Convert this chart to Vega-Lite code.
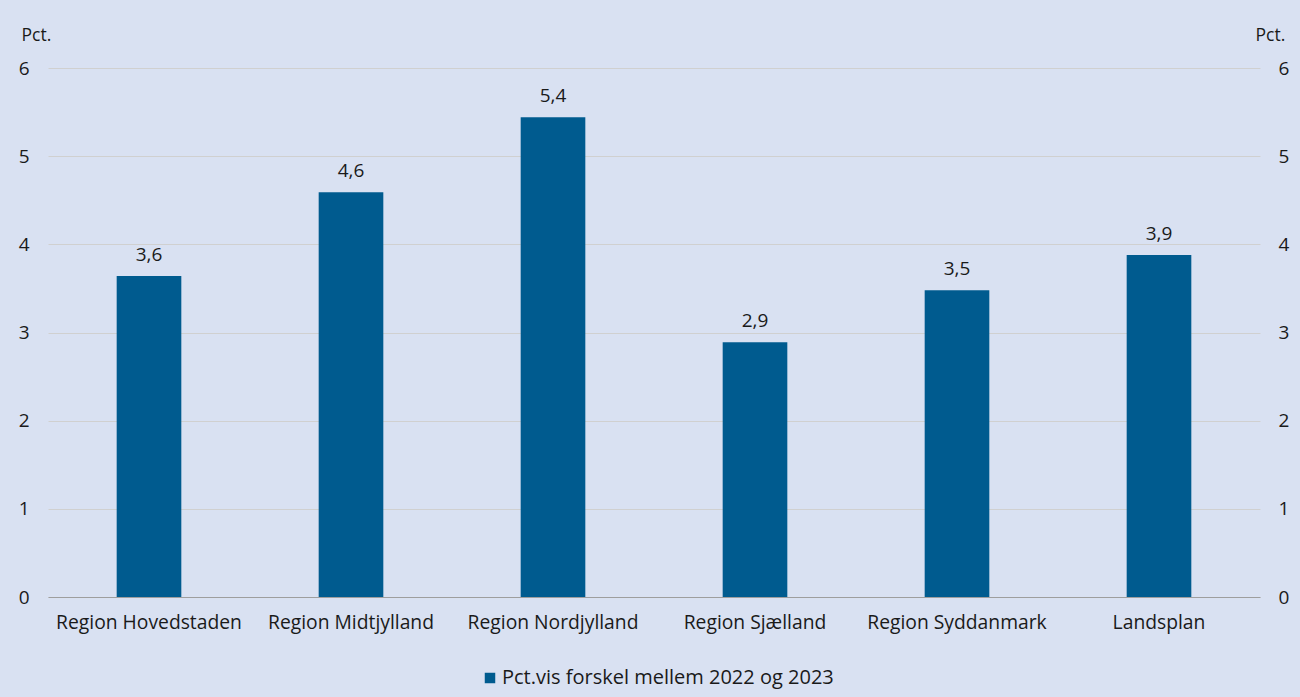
{
  "$schema": "https://vega.github.io/schema/vega-lite/v6.json",
  "width": 1212,
  "height": 529,
  "autosize": {"type": "none"},
  "padding": {"left": 48, "top": 68, "right": 40, "bottom": 100},
  "background": "#D9E1F2",
  "config": {
    "view": {"stroke": null},
    "font": "Open Sans",
    "locale": {"number": {"decimal": ",", "thousands": ".", "grouping": [3], "currency": ["", " kr."]}}
  },
  "data": {
    "values": [
      {"region": "Region Hovedstaden", "value": 3.64, "serie": "Pct.vis forskel mellem 2022 og 2023"},
      {"region": "Region Midtjylland", "value": 4.59, "serie": "Pct.vis forskel mellem 2022 og 2023"},
      {"region": "Region Nordjylland", "value": 5.44, "serie": "Pct.vis forskel mellem 2022 og 2023"},
      {"region": "Region Sjælland", "value": 2.89, "serie": "Pct.vis forskel mellem 2022 og 2023"},
      {"region": "Region Syddanmark", "value": 3.48, "serie": "Pct.vis forskel mellem 2022 og 2023"},
      {"region": "Landsplan", "value": 3.88, "serie": "Pct.vis forskel mellem 2022 og 2023"}
    ]
  },
  "encoding": {
    "x": {
      "field": "region", "type": "nominal", "sort": null,
      "scale": {"paddingInner": 0.68, "paddingOuter": 0.34},
      "axis": {
        "title": null, "labelAngle": 0, "ticks": false, "labelFontSize": 19.3, "labelColor": "#1a1a1a",
        "domainColor": "#9e9e9e", "labelPadding": 16, "labelLimit": 0
      }
    }
  },
  "layer": [
    {
      "mark": {"type": "bar"},
      "encoding": {
        "y": {
          "field": "value", "type": "quantitative",
          "scale": {"domain": [0, 6], "nice": false},
          "axis": {
            "orient": "left", "values": [0, 1, 2, 3, 4, 5, 6], "grid": true, "gridColor": "#d0d0d0",
            "domain": false, "ticks": false, "labelPadding": 19, "labelFontSize": 19, "labelColor": "#1a1a1a",
            "title": "Pct.", "titleAngle": 0, "titleAlign": "left", "titleBaseline": "alphabetic",
            "titleX": -27, "titleY": -28, "titleFontSize": 17.5, "titleFontWeight": "normal", "titleColor": "#1a1a1a"
          }
        },
        "color": {
          "field": "serie", "type": "nominal",
          "scale": {"range": ["#005B8F"]},
          "legend": {
            "title": null, "orient": "none", "legendX": 432, "legendY": 600, "symbolType": "square",
            "symbolSize": 110, "symbolStrokeWidth": 0, "labelFontSize": 20, "labelColor": "#1a1a1a",
            "labelOffset": 2, "labelLimit": 0
          }
        }
      }
    },
    {
      "mark": {"type": "text", "baseline": "bottom", "dy": -11, "fontSize": 19, "color": "#1a1a1a"},
      "encoding": {
        "y": {
          "field": "value", "type": "quantitative",
          "scale": {"domain": [0, 6], "nice": false},
          "axis": {
            "orient": "right", "values": [0, 1, 2, 3, 4, 5, 6], "grid": false,
            "domain": false, "ticks": false, "labelPadding": 18, "labelFontSize": 19, "labelColor": "#1a1a1a",
            "title": "Pct.", "titleAngle": 0, "titleAlign": "left", "titleBaseline": "alphabetic",
            "titleX": -5, "titleY": -28, "titleFontSize": 17.5, "titleFontWeight": "normal", "titleColor": "#1a1a1a"
          }
        },
        "text": {"field": "value", "type": "quantitative", "format": ".1f"}
      }
    }
  ],
  "resolve": {"axis": {"y": "independent"}}
}
